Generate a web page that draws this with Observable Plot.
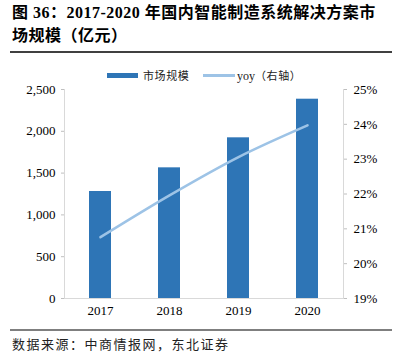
<!DOCTYPE html>
<html><head><meta charset="utf-8">
<script src="https://cdn.jsdelivr.net/npm/d3@7"></script>
<script src="https://cdn.jsdelivr.net/npm/@observablehq/plot@0.6"></script>
<style>
body{margin:0;background:#fff;}
#wrap{position:relative;width:394px;height:356px;overflow:hidden;font-family:"Liberation Serif","Noto Sans CJK SC",serif;color:#000;}
#title{position:absolute;left:12px;top:1px;white-space:nowrap;font-size:16px;font-weight:bold;line-height:23px;letter-spacing:0.5px;}
.rule{position:absolute;left:10px;width:382px;}
#chart{position:absolute;left:0;top:60px;}
.lg{position:absolute;font-size:11px;white-space:nowrap;line-height:14px;color:#222;}
#source{position:absolute;left:12px;top:334px;font-size:13px;letter-spacing:1.5px;white-space:nowrap;font-family:"Noto Sans CJK SC",sans-serif;color:#222;}
</style>
</head><body>
<div id="wrap">
  <div id="title">图 36：2017-2020 年国内智能制造系统解决方案市<br>场规模（亿元）</div>
  <div class="rule" style="top:51px;height:1.5px;background:#404040;"></div>
  <div id="chart"></div>
  <div style="position:absolute;left:107px;top:73px;width:31px;height:5px;background:#2E75B6;"></div>
  <div class="lg" style="left:143px;top:68px;font-family:'Noto Sans CJK SC',sans-serif;letter-spacing:0.6px;">市场规模</div>
  <div style="position:absolute;left:203px;top:74px;width:32px;height:2.5px;background:#9DC3E6;"></div>
  <div class="lg" style="left:237px;top:68px;"><span style="font-family:'Liberation Serif';font-size:12px;">yoy</span><span style="font-family:'Noto Sans CJK SC';letter-spacing:0.6px;">（右轴）</span></div>
  <div class="rule" style="top:329px;height:1.5px;background:#7f7f7f;"></div>
  <div id="source">数据来源：中商情报网，东北证券</div>
</div>
<script>
const years = ["2017", "2018", "2019", "2020"];
const marketSize = [1280, 1563, 1922, 2384];
const yoy = [20.76, 21.96, 23.06, 23.97];
const leftTicks = [0, 500, 1000, 1500, 2000, 2500];
const rightTicks = [19, 20, 21, 22, 23, 24, 25];

const leftMax = 2500, pctMin = 19, pctMax = 25;
const toLeft = p => (p - pctMin) / (pctMax - pctMin) * leftMax;
const toPct = v => pctMin + v / leftMax * (pctMax - pctMin);

const rows = years.map((y, i) => ({year: y, size: marketSize[i], yoy: yoy[i]}));

const chart = Plot.plot({
  width: 394,
  height: 270,
  marginTop: 29,
  marginBottom: 32,
  marginLeft: 64,
  marginRight: 51,
  style: {fontFamily: "'Liberation Serif', serif", fontSize: "13px", background: "transparent", color: "#000"},
  x: {domain: years, paddingInner: 0.685, paddingOuter: 0.3425, axis: null},
  y: {domain: [0, leftMax], axis: null},
  marks: [
    Plot.frame({anchor: "left", stroke: "#d9d9d9"}),
    Plot.frame({anchor: "right", stroke: "#d9d9d9"}),
    Plot.barY(rows, {x: "year", y: "size", fill: "#2E75B6"}),
    Plot.ruleY([0], {stroke: "#d9d9d9"}),
    Plot.line(rows, {x: "year", y: d => toLeft(d.yoy), stroke: "#9DC3E6", strokeWidth: 2.6, curve: "catmull-rom"}),
    Plot.axisY(leftTicks, {anchor: "left", label: null, tickSize: 3, tickPadding: 6, stroke: "#bfbfbf", fill: "#000", fontSize: 13, tickFormat: d3.format(",")}),
    Plot.axisY(rightTicks.map(toLeft), {anchor: "right", label: null, tickSize: 3, tickPadding: 7, stroke: "#bfbfbf", fill: "#000", fontSize: 13, tickFormat: d => Math.round(toPct(d)) + "%"}),
    Plot.axisX(years, {anchor: "bottom", label: null, tickSize: 0, tickPadding: 7, fill: "#000", fontSize: 13})
  ]
});
document.getElementById("chart").appendChild(chart);
</script>
</body></html>
